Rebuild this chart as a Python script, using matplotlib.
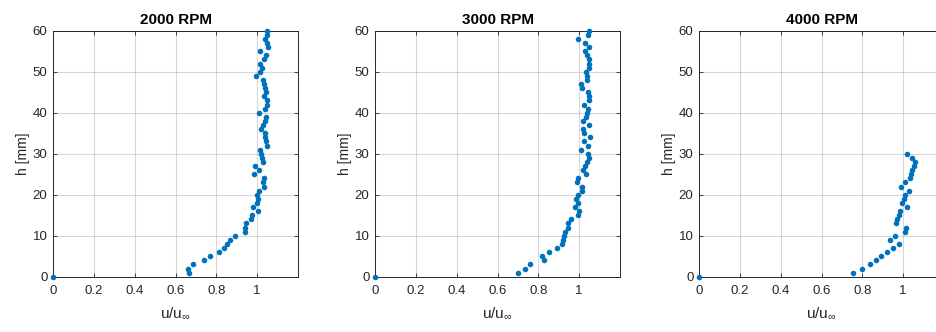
import matplotlib
matplotlib.use("Agg")
import matplotlib.pyplot as plt

plt.rcParams["font.family"] = ["Liberation Sans", "DejaVu Sans"]
plt.rcParams["mathtext.fontset"] = "custom"
plt.rcParams["mathtext.rm"] = "Liberation Sans"
plt.rcParams["mathtext.it"] = "Liberation Sans"
plt.rcParams["mathtext.bf"] = "Liberation Sans:bold"

# Probe heights above the wall [mm]
h_2000 = list(range(61))
h_3000 = list(range(61))
h_4000 = list(range(31))

# Normalised velocity u/u_inf at each height
u_2000 = [0.0, 0.664, 0.659, 0.684, 0.738, 0.770, 0.811, 0.836, 0.852, 0.869,
          0.893, 0.939, 0.939, 0.943, 0.970, 0.975, 1.005, 0.979, 1.000, 1.005,
          1.000, 1.008, 1.033, 1.030, 1.033, 0.984, 1.008, 0.989, 1.030, 1.026,
          1.021, 1.013, 1.049, 1.044, 1.038, 1.038, 1.021, 1.030, 1.038, 1.041,
          1.008, 1.038, 1.046, 1.046, 1.033, 1.044, 1.038, 1.033, 1.030, 0.992,
          1.013, 1.025, 1.013, 1.033, 1.044, 1.016, 1.052, 1.049, 1.036, 1.049,
          1.049]
u_3000 = [0.0, 0.702, 0.737, 0.759, 0.826, 0.818, 0.850, 0.891, 0.914, 0.923,
          0.927, 0.930, 0.943, 0.943, 0.959, 0.992, 1.000, 0.979, 0.995, 0.984,
          0.995, 1.013, 1.016, 0.987, 0.995, 1.033, 1.021, 1.029, 1.037, 1.046,
          1.041, 1.008, 1.041, 1.024, 1.052, 1.026, 1.021, 1.049, 1.021, 1.033,
          1.037, 1.044, 1.024, 1.046, 1.049, 1.041, 1.016, 1.008, 1.037, 1.037,
          1.033, 1.046, 1.049, 1.049, 1.037, 1.028, 1.049, 1.028, 0.992, 1.041,
          1.046]
u_4000 = [0.0, 0.755, 0.799, 0.837, 0.866, 0.892, 0.920, 0.951, 0.980, 0.936,
          0.962, 1.008, 1.013, 0.964, 0.972, 0.982, 0.984, 1.020, 0.995, 1.002,
          1.007, 1.028, 0.987, 1.008, 1.033, 1.038, 1.044, 1.052, 1.059, 1.041,
          1.020]

titles = ["2000 RPM", "3000 RPM", "4000 RPM"]
series = [(u_2000, h_2000), (u_3000, h_3000), (u_4000, h_4000)]

W, H = 936, 332
fig = plt.figure(figsize=(W / 100, H / 100), dpi=100)

# axes boxes in pixels: left, right, top, bottom
boxes = [(53, 298, 30.7, 276.7), (375, 620, 30.7, 276.7), (699, 944, 30.7, 276.7)]

axis_color = "#262626"
dot_color = "#0072BD"

for (l, r, t, b), title, (u, h) in zip(boxes, titles, series):
    ax = fig.add_axes([l / W, (H - b) / H, (r - l) / W, (b - t) / H])
    ax.plot(u, h, "o", color=dot_color, markersize=4.0, markeredgewidth=0,
            clip_on=False, zorder=3)
    ax.set_xlim(0, 1.2)
    ax.set_ylim(0, 60)
    ax.set_xticks([0, 0.2, 0.4, 0.6, 0.8, 1.0])
    ax.set_xticklabels(["0", "0.2", "0.4", "0.6", "0.8", "1"])
    ax.set_yticks([0, 10, 20, 30, 40, 50, 60])
    ax.grid(True, color=axis_color, alpha=0.18, linewidth=0.8)
    ax.set_axisbelow(True)
    ax.tick_params(direction="in", top=True, right=True, length=3,
                   width=0.6, colors=axis_color, labelsize=9.5)
    ax.tick_params(axis="x", pad=6)
    ax.tick_params(axis="y", pad=4)
    for sp in ax.spines.values():
        sp.set_color(axis_color)
        sp.set_linewidth(0.7)
    ax.set_title(title, fontsize=11, fontweight="bold", color="black", pad=5)
    ax.set_xlabel(r"u/u$_{\infty}$", fontsize=11, color=axis_color, labelpad=6)
    ax.set_ylabel("h [mm]", fontsize=10, color=axis_color, labelpad=2)

fig.savefig("out.png", dpi=100)
